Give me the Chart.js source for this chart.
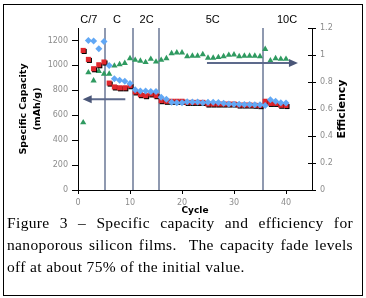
<!DOCTYPE html>
<html>
<head>
<meta charset="utf-8">
<script src="https://cdn.jsdelivr.net/npm/chart.js@4.4.1/dist/chart.umd.min.js"></script>
<style>
  body { margin: 0; background: #fff; }
  #wrap { position: relative; width: 366px; height: 298px; overflow: hidden; }
  #frame { position: absolute; left: 3px; top: 4px; width: 360px; height: 292px; border: 1px solid #000; box-sizing: border-box; }
  #chart { position: absolute; left: 0; top: 0; }
  #caption { position: absolute; left: 7px; top: 212px; width: 346px; font-family: "Liberation Serif", serif; font-size: 15.5px; letter-spacing: 0.35px; line-height: 22px; color: #000; }
  #caption .j { text-align: justify; text-align-last: justify; }
</style>
</head>
<body>
<div id="wrap">
  <canvas id="chart" width="366" height="298"></canvas>
  <div id="caption">
    <div class="j">Figure 3 – Specific capacity and efficiency for</div>
    <div class="j">nanoporous silicon films.&nbsp; The capacity fade levels</div>
    <div>off at about 75% of the initial value.</div>
  </div>
  <div id="frame"></div>
</div>
<script>
// cycle number for every point
const cycles = [1, 2, 3, 4, 5, 6, 7, 8, 9, 10, 11, 12, 13, 14, 15, 16, 17, 18, 19, 20,
                21, 22, 23, 24, 25, 26, 27, 28, 29, 30, 31, 32, 33, 34, 35, 36, 37, 38, 39, 40];
// charge capacity (blue), first cycle is above the plot
const chargeCap = [null, 1200, 1195, 1133, 1192, 1000, 893, 880, 872, 855, 805, 795, 795, 790, 790, 745, 728, 704, 701, 701,
                   708, 707, 707, 700, 704, 704, 702, 697, 691, 689, 689, 687, 687, 685, 684, 678, 724, 712, 701, 699];
// discharge capacity (red)
const dischargeCap = [1120, 1048, 973, 1005, 1027, 858, 827, 820, 820, 837, 787, 765, 757, 771, 757, 717, 712, 712, 712, 712,
                      703, 703, 703, 703, 690, 690, 690, 690, 690, 690, 682, 682, 682, 680, 677, 712, 695, 695, 680, 678];
// efficiency (green, right axis)
const efficiency = [0.50, 0.87, 0.81, 0.88, 0.86, 0.86, 0.92, 0.93, 0.94, 0.975, 0.963, 0.956, 0.946, 0.97, 0.95, 0.963, 0.975, 1.012, 1.017, 1.017,
                    0.99, 0.993, 0.993, 1.005, 0.978, 0.978, 0.983, 0.99, 1.0, 1.003, 0.99, 0.993, 0.993, 0.993, 0.99, 1.043, 0.958, 0.975, 0.97, 0.97];

// C-rate changes and their labels
const rateBoundaries = [5.25, 10.5, 15.5, 35.5];
const rateLabels = ['C/7', 'C', '2C', '5C', '10C'];
const rateLabelPos = [2.1, 7.5, 13.2, 25.9, 40.2];

// arrows: [x, y] start and tip, left one on capacity axis, right one on efficiency axis
const capArrow = [[9.1, 728], [0.9, 728]];
const effArrow = [[24.8, 0.94], [42.3, 0.94]];

const pts = (ys) => cycles.map((c, i) => ({ x: c, y: ys[i] }));

const tickFont = { family: 'DejaVu Sans', size: 8 };
const tickGrey = '#8c8c8c';

const shadowPlugin = {
  id: 'shadow',
  beforeDatasetDraw(chart, args) {
    if (chart.data.datasets[args.index].shadow) {
      const ctx = chart.ctx;
      ctx.save();
      ctx.shadowColor = '#000';
      ctx.shadowOffsetX = 1;
      ctx.shadowOffsetY = 1;
      ctx.shadowBlur = 0;
    }
  },
  afterDatasetDraw(chart, args) {
    if (chart.data.datasets[args.index].shadow) chart.ctx.restore();
  }
};

function drawArrow(ctx, x0, y0, x1, y1) {
  const dir = Math.sign(x1 - x0);
  ctx.strokeStyle = '#5d6a8c';
  ctx.lineWidth = 2;
  ctx.beginPath();
  ctx.moveTo(x0, y0);
  ctx.lineTo(x1 - dir * 7, y1);
  ctx.stroke();
  ctx.fillStyle = '#4a5678';
  ctx.beginPath();
  ctx.moveTo(x1, y1);
  ctx.lineTo(x1 - dir * 9, y1 - 4);
  ctx.lineTo(x1 - dir * 9, y1 + 4);
  ctx.closePath();
  ctx.fill();
}

const decorPlugin = {
  id: 'decor',
  beforeDatasetsDraw(chart) {
    const { ctx, chartArea, scales } = chart;
    ctx.save();
    ctx.strokeStyle = '#8f99b0';
    ctx.lineWidth = 2;
    rateBoundaries.forEach(v => {
      const x = Math.round(scales.x.getPixelForValue(v));
      ctx.beginPath();
      ctx.moveTo(x, chartArea.top);
      ctx.lineTo(x, chartArea.bottom);
      ctx.stroke();
    });
    // right axis ticks also poke into the plot
    ctx.strokeStyle = '#000';
    ctx.lineWidth = 1;
    scales.y1.ticks.forEach(t => {
      const y = Math.round(scales.y1.getPixelForValue(t.value)) + 0.5;
      ctx.beginPath();
      ctx.moveTo(chartArea.right - 4, y);
      ctx.lineTo(chartArea.right, y);
      ctx.stroke();
    });
    ctx.fillStyle = '#000';
    ctx.font = '11px "Liberation Sans"';
    ctx.textAlign = 'center';
    ctx.textBaseline = 'middle';
    rateLabels.forEach((t, i) => {
      ctx.fillText(t, scales.x.getPixelForValue(rateLabelPos[i]), chartArea.top - 8);
    });
    ctx.restore();
  },
  afterDatasetsDraw(chart) {
    const { ctx, scales } = chart;
    ctx.save();
    drawArrow(ctx,
      scales.x.getPixelForValue(capArrow[0][0]), scales.y.getPixelForValue(capArrow[0][1]),
      scales.x.getPixelForValue(capArrow[1][0]), scales.y.getPixelForValue(capArrow[1][1]));
    drawArrow(ctx,
      scales.x.getPixelForValue(effArrow[0][0]), scales.y1.getPixelForValue(effArrow[0][1]),
      scales.x.getPixelForValue(effArrow[1][0]), scales.y1.getPixelForValue(effArrow[1][1]));
    // right axis title reads bottom to top
    ctx.translate(342, (chart.chartArea.top + chart.chartArea.bottom) / 2);
    ctx.rotate(-Math.PI / 2);
    ctx.fillStyle = '#000';
    ctx.font = 'bold 11px "DejaVu Sans"';
    ctx.textAlign = 'center';
    ctx.textBaseline = 'middle';
    ctx.fillText('Efficiency', 0, 0);
    ctx.restore();
  }
};

new Chart(document.getElementById('chart'), {
  type: 'scatter',
  data: {
    datasets: [
      {
        label: 'Charge',
        data: pts(chargeCap),
        yAxisID: 'y',
        pointStyle: 'rectRot',
        radius: 3.5,
        backgroundColor: '#62a8f5',
        borderColor: '#62a8f5',
        borderWidth: 0
      },
      {
        label: 'Discharge',
        data: pts(dischargeCap),
        yAxisID: 'y',
        pointStyle: 'rect',
        radius: 3.6,
        backgroundColor: '#e0262c',
        borderColor: '#e0262c',
        borderWidth: 0,
        shadow: true
      },
      {
        label: 'Efficiency',
        data: pts(efficiency),
        yAxisID: 'y1',
        pointStyle: 'triangle',
        radius: 3.6,
        backgroundColor: '#2f9a60',
        borderColor: '#2f9a60',
        borderWidth: 0
      }
    ]
  },
  options: {
    responsive: false,
    animation: false,
    layout: { padding: { top: 28, bottom: 83, left: 0, right: 0 } },
    plugins: { legend: { display: false }, tooltip: { enabled: false } },
    scales: {
      x: {
        type: 'linear',
        min: 0,
        max: 45,
        afterFit: s => { s.height = 25; },
        afterBuildTicks: s => { s.ticks = s.ticks.filter(t => t.value % 10 === 0); },
        ticks: { stepSize: 10, color: tickGrey, font: tickFont, padding: 4, maxRotation: 0 },
        grid: { drawOnChartArea: false, tickLength: 4, color: '#000' },
        border: { color: '#000' },
        title: {
          display: true, text: 'Cycle', color: '#000',
          font: { family: 'DejaVu Sans', size: 9, weight: 'bold', lineHeight: 1 },
          padding: { top: 0, bottom: 0 }
        }
      },
      y: {
        position: 'left',
        min: 0,
        max: 1300,
        afterFit: s => { s.width = 78; },
        afterBuildTicks: s => { s.ticks = s.ticks.filter(t => t.value <= 1200); },
        ticks: { stepSize: 200, color: tickGrey, font: tickFont, padding: 4, callback: v => v },
        grid: { drawOnChartArea: false, tickLength: 6, color: '#000' },
        border: { color: '#000' },
        title: {
          display: true, text: ['Specific Capacity', '(mAh/g)'], color: '#000',
          font: { family: 'DejaVu Sans', size: 9.5, weight: 'bold', lineHeight: 1.5 },
          padding: { top: 16, bottom: 0 }
        }
      },
      y1: {
        position: 'right',
        min: 0,
        max: 1.2,
        afterFit: s => { s.width = 54; },
        ticks: { stepSize: 0.2, color: tickGrey, font: tickFont, padding: 4, callback: v => +v.toFixed(1) },
        grid: { drawOnChartArea: false, tickLength: 4, color: '#000' },
        border: { color: '#000' }
      }
    }
  },
  plugins: [shadowPlugin, decorPlugin]
});
</script>
</body>
</html>
